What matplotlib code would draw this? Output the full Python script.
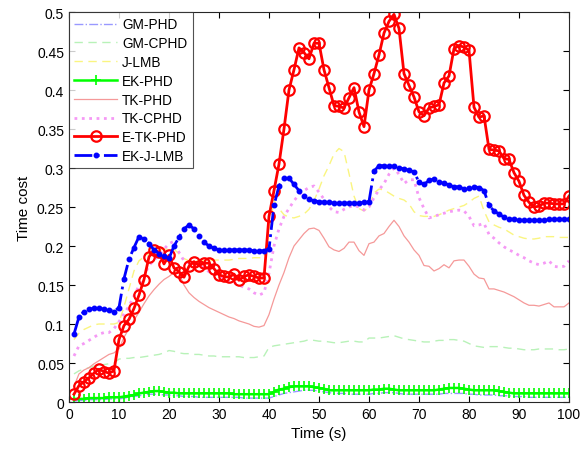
import matplotlib
matplotlib.use('Agg')
import matplotlib.pyplot as plt
import numpy as np

plt.rcParams['font.family'] = ['Liberation Sans', 'DejaVu Sans']

t = np.arange(1, 101)

gm_phd = [0.001, 0.002, 0.002, 0.003, 0.003, 0.003, 0.003, 0.004, 0.004, 0.004,
          0.005, 0.006, 0.007, 0.008, 0.009, 0.010, 0.010, 0.010, 0.009, 0.009,
          0.008, 0.008, 0.007, 0.007, 0.007, 0.006, 0.006, 0.006, 0.006, 0.006,
          0.006, 0.006, 0.006, 0.006, 0.005, 0.005, 0.005, 0.005, 0.005, 0.005,
          0.007, 0.009, 0.011, 0.012, 0.013, 0.014, 0.015, 0.015, 0.015, 0.014,
          0.013, 0.012, 0.011, 0.011, 0.011, 0.010, 0.010, 0.010, 0.010, 0.010,
          0.011, 0.011, 0.012, 0.012, 0.012, 0.011, 0.010, 0.010, 0.010, 0.010,
          0.010, 0.010, 0.010, 0.010, 0.011, 0.011, 0.011, 0.011, 0.011, 0.010,
          0.010, 0.009, 0.009, 0.009, 0.009, 0.008, 0.008, 0.008, 0.007, 0.007,
          0.007, 0.006, 0.006, 0.006, 0.006, 0.006, 0.006, 0.006, 0.006, 0.006]

gm_cphd = [0.036, 0.040, 0.042, 0.044, 0.046, 0.047, 0.048, 0.049, 0.050, 0.055,
           0.056, 0.056, 0.057, 0.057, 0.058, 0.059, 0.060, 0.061, 0.063, 0.066,
           0.065, 0.063, 0.062, 0.062, 0.061, 0.061, 0.060, 0.059, 0.059, 0.058,
           0.058, 0.058, 0.058, 0.058, 0.057, 0.057, 0.057, 0.058, 0.059, 0.070,
           0.072, 0.073, 0.074, 0.075, 0.076, 0.077, 0.078, 0.080, 0.079, 0.078,
           0.078, 0.077, 0.076, 0.076, 0.077, 0.078, 0.078, 0.077, 0.077, 0.082,
           0.082, 0.082, 0.083, 0.084, 0.085, 0.083, 0.081, 0.080, 0.079, 0.078,
           0.077, 0.077, 0.078, 0.079, 0.079, 0.080, 0.080, 0.079, 0.078, 0.075,
           0.072, 0.071, 0.070, 0.071, 0.071, 0.071, 0.070, 0.069, 0.069, 0.068,
           0.067, 0.067, 0.067, 0.068, 0.068, 0.068, 0.068, 0.067, 0.067, 0.068]

j_lmb = [0.080, 0.088, 0.093, 0.096, 0.099, 0.100, 0.100, 0.100, 0.100, 0.102,
         0.122, 0.145, 0.168, 0.181, 0.186, 0.190, 0.193, 0.195, 0.196, 0.196,
         0.196, 0.190, 0.184, 0.181, 0.181, 0.181, 0.181, 0.181, 0.182, 0.182,
         0.182, 0.182, 0.183, 0.184, 0.184, 0.184, 0.185, 0.185, 0.185, 0.218,
         0.259, 0.248, 0.240, 0.237, 0.236, 0.238, 0.241, 0.247, 0.258, 0.273,
         0.290, 0.303, 0.318, 0.325, 0.321, 0.293, 0.264, 0.248, 0.245, 0.250,
         0.268, 0.273, 0.272, 0.268, 0.264, 0.261, 0.259, 0.254, 0.244, 0.239,
         0.238, 0.238, 0.238, 0.240, 0.243, 0.246, 0.248, 0.250, 0.252, 0.256,
         0.261, 0.264, 0.245, 0.231, 0.227, 0.224, 0.222, 0.218, 0.214, 0.212,
         0.210, 0.209, 0.209, 0.210, 0.212, 0.212, 0.212, 0.211, 0.211, 0.211]

ek_phd = [0.004, 0.004, 0.004, 0.005, 0.005, 0.005, 0.005, 0.006, 0.006, 0.006,
          0.007, 0.008, 0.009, 0.011, 0.012, 0.013, 0.014, 0.014, 0.013, 0.012,
          0.012, 0.011, 0.011, 0.011, 0.011, 0.011, 0.011, 0.011, 0.011, 0.011,
          0.011, 0.011, 0.010, 0.010, 0.010, 0.010, 0.010, 0.010, 0.010, 0.010,
          0.013, 0.016, 0.017, 0.019, 0.020, 0.020, 0.020, 0.020, 0.019, 0.018,
          0.017, 0.015, 0.015, 0.015, 0.015, 0.015, 0.015, 0.015, 0.015, 0.015,
          0.016, 0.016, 0.017, 0.017, 0.016, 0.015, 0.015, 0.015, 0.015, 0.015,
          0.015, 0.015, 0.015, 0.016, 0.017, 0.018, 0.018, 0.018, 0.017, 0.016,
          0.015, 0.015, 0.015, 0.015, 0.015, 0.014, 0.013, 0.012, 0.011, 0.011,
          0.011, 0.011, 0.011, 0.011, 0.011, 0.011, 0.011, 0.011, 0.011, 0.011]

tk_phd = [0.020, 0.036, 0.041, 0.044, 0.049, 0.053, 0.057, 0.061, 0.063, 0.068,
          0.083, 0.094, 0.105, 0.115, 0.126, 0.136, 0.144, 0.151, 0.157, 0.161,
          0.166, 0.165, 0.150, 0.140, 0.134, 0.129, 0.125, 0.121, 0.118, 0.115,
          0.112, 0.109, 0.107, 0.104, 0.102, 0.100, 0.097, 0.096, 0.098, 0.112,
          0.132, 0.150, 0.166, 0.185, 0.200, 0.208, 0.216, 0.222, 0.223, 0.220,
          0.210, 0.199, 0.195, 0.193, 0.197, 0.205, 0.205, 0.194, 0.188, 0.203,
          0.205, 0.213, 0.216, 0.225, 0.233, 0.225, 0.213, 0.205, 0.195, 0.188,
          0.175, 0.174, 0.168, 0.171, 0.176, 0.172, 0.181, 0.182, 0.182, 0.174,
          0.164, 0.159, 0.158, 0.145, 0.145, 0.143, 0.141, 0.138, 0.135, 0.131,
          0.127, 0.124, 0.124, 0.123, 0.125, 0.127, 0.122, 0.122, 0.122, 0.127]

tk_cphd = [0.059, 0.072, 0.075, 0.079, 0.083, 0.087, 0.089, 0.089, 0.094, 0.103,
           0.113, 0.123, 0.136, 0.149, 0.162, 0.175, 0.182, 0.188, 0.196, 0.203,
           0.206, 0.192, 0.181, 0.178, 0.176, 0.174, 0.172, 0.167, 0.164, 0.162,
           0.158, 0.155, 0.153, 0.150, 0.147, 0.145, 0.140, 0.137, 0.140, 0.165,
           0.200, 0.222, 0.238, 0.248, 0.258, 0.266, 0.271, 0.275, 0.277, 0.269,
           0.260, 0.250, 0.244, 0.243, 0.247, 0.250, 0.252, 0.250, 0.246, 0.250,
           0.262, 0.272, 0.280, 0.292, 0.300, 0.292, 0.280, 0.285, 0.285, 0.262,
           0.248, 0.236, 0.238, 0.240, 0.242, 0.244, 0.245, 0.246, 0.245, 0.238,
           0.226, 0.227, 0.229, 0.215, 0.210, 0.204, 0.199, 0.195, 0.192, 0.188,
           0.185, 0.181, 0.178, 0.176, 0.178, 0.181, 0.174, 0.173, 0.174, 0.181]

e_tk_phd = [0.010, 0.021, 0.026, 0.031, 0.037, 0.042, 0.039, 0.037, 0.040, 0.080,
            0.098, 0.106, 0.120, 0.137, 0.157, 0.186, 0.195, 0.192, 0.177, 0.188,
            0.172, 0.167, 0.160, 0.174, 0.180, 0.175, 0.178, 0.178, 0.171, 0.163,
            0.161, 0.160, 0.164, 0.156, 0.161, 0.163, 0.161, 0.159, 0.159, 0.238,
            0.271, 0.305, 0.350, 0.400, 0.426, 0.454, 0.448, 0.440, 0.460, 0.460,
            0.426, 0.403, 0.380, 0.379, 0.377, 0.390, 0.403, 0.372, 0.353, 0.400,
            0.421, 0.445, 0.473, 0.488, 0.497, 0.479, 0.421, 0.406, 0.391, 0.372,
            0.367, 0.377, 0.379, 0.381, 0.409, 0.418, 0.453, 0.457, 0.455, 0.451,
            0.378, 0.365, 0.367, 0.324, 0.323, 0.322, 0.312, 0.311, 0.294, 0.283,
            0.265, 0.256, 0.250, 0.251, 0.255, 0.255, 0.254, 0.254, 0.254, 0.264]

ek_j_lmb = [0.087, 0.109, 0.116, 0.119, 0.120, 0.120, 0.119, 0.118, 0.116, 0.121,
            0.158, 0.183, 0.198, 0.212, 0.209, 0.203, 0.195, 0.190, 0.187, 0.184,
            0.200, 0.211, 0.222, 0.227, 0.222, 0.213, 0.205, 0.200, 0.197, 0.195,
            0.195, 0.195, 0.195, 0.195, 0.195, 0.195, 0.194, 0.194, 0.194, 0.196,
            0.252, 0.277, 0.287, 0.287, 0.279, 0.271, 0.264, 0.260, 0.258, 0.257,
            0.256, 0.256, 0.255, 0.255, 0.255, 0.255, 0.255, 0.255, 0.256, 0.257,
            0.296, 0.303, 0.303, 0.303, 0.302, 0.300, 0.299, 0.297, 0.295, 0.282,
            0.279, 0.284, 0.286, 0.282, 0.281, 0.278, 0.276, 0.276, 0.273, 0.275,
            0.276, 0.275, 0.271, 0.252, 0.245, 0.241, 0.237, 0.235, 0.234, 0.233,
            0.233, 0.233, 0.233, 0.233, 0.233, 0.234, 0.234, 0.234, 0.234, 0.234]

fig = plt.figure(figsize=(5.88, 4.52), dpi=100)
ax = fig.add_axes([0.1173, 0.1084, 0.8504, 0.8628])

ax.plot(t, gm_phd, '-.', color=(0.6, 0.6, 1.0), lw=1.0, label='GM-PHD')
ax.plot(t, gm_cphd, '--', color=(0.72, 0.95, 0.72), lw=1.0, dashes=(6, 4), label='GM-CPHD')
ax.plot(t, j_lmb, '--', color=(0.98, 0.96, 0.5), lw=1.0, dashes=(6, 4), label='J-LMB')
ax.plot(t, ek_phd, '-', color=(0.0, 1.0, 0.0), lw=1.8, marker='+', ms=7, mew=1.2, label='EK-PHD')
ax.plot(t, tk_phd, '-', color=(0.96, 0.6, 0.6), lw=0.9, label='TK-PHD')
ax.plot(t, tk_cphd, ':', color=(0.96, 0.6, 0.96), lw=2.0, label='TK-CPHD')
ax.plot(t, e_tk_phd, '-', color='r', lw=2.0, marker='o', ms=7.5, mfc='none', mew=1.6, label='E-TK-PHD')
ax.plot(t, ek_j_lmb, '-.', color='b', lw=2.0, marker='.', ms=6.5, label='EK-J-LMB')

ax.set_xlim(0, 100)
ax.set_ylim(0, 0.5)
ax.set_xticks(np.arange(0, 101, 10))
yt = np.arange(0, 0.501, 0.05)
ax.set_yticks(yt)
ax.set_yticklabels(['0', '0.05', '0.1', '0.15', '0.2', '0.25', '0.3', '0.35', '0.4', '0.45', '0.5'])
ax.tick_params(direction='in', top=True, right=True, length=4, labelsize=10, width=0.8)
for s in ax.spines.values():
    s.set_linewidth(0.8)
    s.set_color('#262626')

ax.set_xlabel('Time (s)', fontsize=11)
ax.set_ylabel('Time cost', fontsize=11)

leg = ax.legend(loc='upper left', fontsize=9.8, borderaxespad=0, fancybox=False,
                handlelength=3.1, labelspacing=0.35, borderpad=0.4, handletextpad=0.4)
leg.get_frame().set_edgecolor('#262626')
leg.get_frame().set_linewidth(0.8)

fig.savefig('out.png', dpi=100)
